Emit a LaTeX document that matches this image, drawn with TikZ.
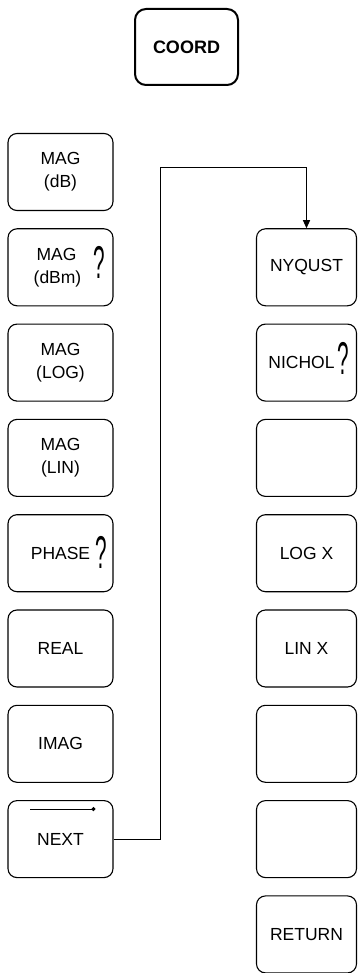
\documentclass[tikz,border=0pt]{standalone}
\usepackage{fontspec}
\setmainfont{Liberation Sans}
\usetikzlibrary{arrows.meta,positioning,calc}

\begin{document}
\begin{tikzpicture}[x=1pt,y=-1pt,
softkey/.style={draw,rounded corners=9pt,line width=1.1pt,minimum width=105pt,minimum height=77pt,align=center,font=\fontsize{17.5}{23}\selectfont},
menukey/.style={softkey,line width=2pt,minimum width=103pt,minimum height=76pt,rounded corners=11pt,font=\fontsize{18}{22}\selectfont\bfseries},
query/.style={inner sep=0pt,font=\fontsize{46}{46}\selectfont},
link/.style={line width=1pt,-{Triangle[length=8pt,width=7pt]}}]
\useasboundingbox (0,0) rectangle (357,973);
\node[menukey] (coord) at (186.5,47) {COORD};
% left column
\foreach \n/\i/\t in {db/0/{MAG\\(dB)},dbm/1/{MAG\hspace*{8pt}\\(dBm)\hspace*{6pt}},log/2/{MAG\\(LOG)},lin/3/{MAG\\(LIN)},
  phase/4/PHASE,real/5/REAL,imag/6/IMAG,next/7/NEXT}
  \node[softkey] (\n) at (60.5,{172+\i*95.3}) {\t};
% right column
\foreach \n/\i/\t in {nyq/1/NYQUST,nic/2/{NICHOL\hspace*{10pt}},rb3/3/{},logx/4/{LOG X},linx/5/{LIN X},
  rb6/6/{},rb7/7/{},ret/8/RETURN}
  \node[softkey,minimum width=100pt] (\n) at (306.5,{172+\i*95.3}) {\t};
\node[query] (qdbm) at (99,262) {\scalebox{0.45}[1]{?}};
\node[query] (qnic) at (343,358) {\scalebox{0.45}[1]{?}};
\node[query] (qpha) at (101,552) {\scalebox{0.45}[1]{?}};
\draw[line width=1pt,-{Circle[length=4pt]}] ([shift={(23pt,-9pt)}]next.north west) -- ++(65,0);
\coordinate (bend) at (160,168);
\draw[link] (next.east) -| (bend) -| (nyq.north);
\end{tikzpicture}
\end{document}
